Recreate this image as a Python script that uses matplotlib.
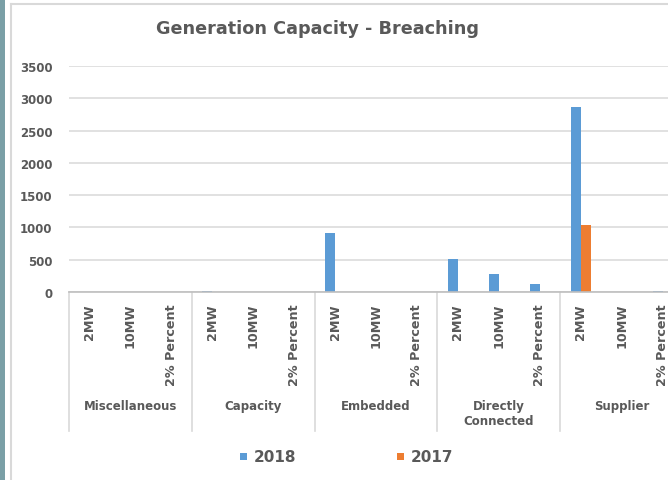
import matplotlib.pyplot as plt
from matplotlib.patches import Rectangle
from matplotlib.lines import Line2D
import numpy as np

# datos
grupos = ["Miscellaneous", "Capacity", "Embedded", "Directly\nConnected", "Supplier"]
subcats = ["2MW", "10MW", "2% Percent"]
valores_2018 = [0, 0, 0,
                15, 0, 0,
                910, 0, 0,
                515, 272, 125,
                2870, 0, 10]
valores_2017 = [0, 0, 0,
                0, 0, 0,
                5, 0, 0,
                0, 0, 0,
                1040, 0, 0]
series = ["2018", "2017"]
colores = ["#5b9bd5", "#ed7d31"]
gris_texto = "#595959"
gris_linea = "#d9d9d9"

W, H = 668, 481
fig = plt.figure(figsize=(W / 100, H / 100), dpi=100)

# marco de fondo (franja lateral y borde del area del grafico)
fig.patches.append(Rectangle((0, 0), 4.5 / W, 1, transform=fig.transFigure,
                             facecolor="#7a9fa6", edgecolor="none"))
fig.add_artist(Line2D([10.5 / W, 10.5 / W], [0, 1 - 4.5 / H], transform=fig.transFigure,
                      color="#d9d9d9", lw=1.5))
fig.add_artist(Line2D([10.5 / W, 1], [1 - 4.5 / H, 1 - 4.5 / H], transform=fig.transFigure,
                      color="#d9d9d9", lw=1.5))

# ejes: el area de trazado se sale por la derecha como en la captura
x0, x1 = 69, 683
y_top, y_cero = 67, 293
ax = fig.add_axes([x0 / W, 1 - y_cero / H, (x1 - x0) / W, (y_cero - y_top) / H])

n = len(valores_2018)
x = np.arange(n)
ancho = 0.245
ax.bar(x - ancho / 2, valores_2018, ancho, color=colores[0], label=series[0])
ax.bar(x + ancho / 2, valores_2017, ancho, color=colores[1], label=series[1])

ax.set_xlim(-0.5, n - 0.5)
ax.set_ylim(0, 3500)
ax.set_yticks(np.arange(0, 3501, 500))
ax.yaxis.grid(True, color=gris_linea, lw=1.1)
ax.set_axisbelow(True)
for s in ["top", "right", "left"]:
    ax.spines[s].set_visible(False)
ax.spines["bottom"].set_color("#bfbfbf")
ax.spines["bottom"].set_linewidth(1.2)
ax.tick_params(axis="y", length=0, pad=12, labelsize=8.5, labelcolor=gris_texto)
for lbl in ax.get_yticklabels():
    lbl.set_fontweight("bold")
ax.set_xticks([])

# etiquetas de categorias en dos niveles
trans = ax.get_xaxis_transform()
for i in range(n):
    ax.text(x[i], -11 / (y_cero - y_top), subcats[i % 3], transform=trans,
            rotation=90, ha="center", va="top", fontsize=9.2, fontweight="bold",
            color=gris_texto)
for g, nombre in enumerate(grupos):
    ax.text(3 * g + 1, -107 / (y_cero - y_top), nombre, transform=trans,
            ha="center", va="top", fontsize=8.5, fontweight="bold",
            color=gris_texto, linespacing=1.25)
    ax.plot([3 * g - 0.5, 3 * g - 0.5], [0, -139 / (y_cero - y_top)], transform=trans,
            color=gris_linea, lw=1.2, clip_on=False)

fig.text(317 / W, 1 - 29 / H, "Generation Capacity - Breaching", ha="center", va="center",
         fontsize=12.7, fontweight="bold", color=gris_texto)

# leyenda manual
for xs, xt, nombre, c in [(243, 254, series[0], colores[0]), (400, 411, series[1], colores[1])]:
    fig.patches.append(Rectangle(((xs - 3.5) / W, 1 - 461 / H), 7 / W, 7 / H,
                                 transform=fig.transFigure, facecolor=c, edgecolor="none"))
    fig.text(xt / W, 1 - 458 / H, nombre, ha="left", va="center", fontsize=11,
             fontweight="bold", color=gris_texto)

fig.savefig("out.png", dpi=100)
